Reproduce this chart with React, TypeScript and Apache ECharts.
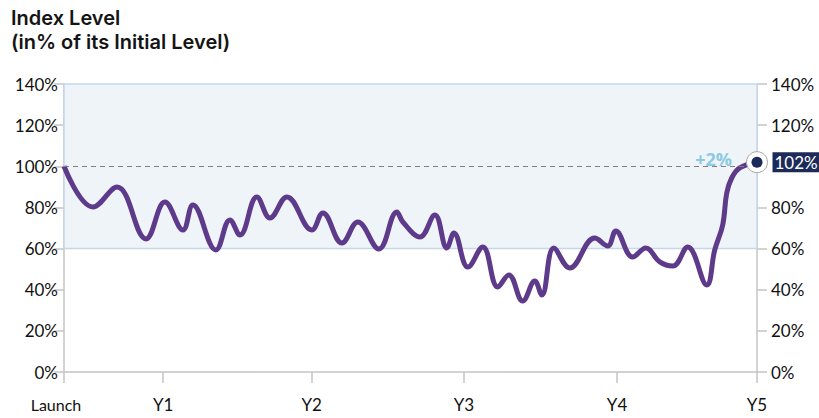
import React, { useEffect, useRef } from "react";
import * as echarts from "echarts";

// Months since launch and index level (% of initial level)
const months = [0, 2.51, 4.59, 7.1, 8.74, 10.3, 11.16, 13.15, 14.37, 15.23, 16.7, 17.83, 19.3, 21.46, 22.41, 24.06, 25.44, 27.26, 28.82, 29.34, 30.81, 32.11, 33.15, 33.76, 34.97, 36.26, 37.56, 38.51, 39.72, 40.76, 41.37, 42.41, 43.79, 45.95, 47.08, 47.77, 49.24, 50.37, 51.58, 52.71, 54.0, 55.65, 56.34, 57.03, 57.38, 57.81, 58.5, 60];
const levels = [100, 80.2, 89.9, 64.7, 82.6, 69.0, 81.2, 59.3, 73.9, 66.6, 85.1, 74.9, 85.1, 69.0, 77.3, 62.7, 72.9, 59.8, 77.8, 72.9, 65.6, 76.3, 60.3, 67.6, 51.0, 60.8, 41.3, 47.2, 34.5, 44.2, 37.4, 60.3, 50.6, 65.1, 61.3, 68.5, 55.9, 60.3, 53.5, 51.5, 60.8, 42.3, 59.3, 71.5, 87.0, 94.3, 99.2, 102];

const xTickValues = [0, 8.59, 21.44, 34.62, 47.88, 60];
const xTickLabels = ["Launch", "Y1", "Y2", "Y3", "Y4", "Y5"];
const initialLevel = 100;
const zoneLow = 60;
const zoneHigh = 140;

export default function App() {
  const ref = useRef<HTMLDivElement>(null);
  useEffect(() => {
    document.body.style.margin = "0";
    const chart = echarts.init(ref.current!, undefined, { renderer: "svg" });
    const data = months.map((m, i) => [m, levels[i]]);
    const last = data[data.length - 1];
    const perf = Math.round(last[1] - initialLevel);
    const font = "Lato";
    const axisCommon = {
      type: "value" as const,
      min: 0,
      max: 140,
      interval: 20,
      axisLine: { show: true, lineStyle: { color: "#c4c4c4", width: 1.5 } },
      axisTick: { show: true, length: 10, lineStyle: { color: "#c4c4c4", width: 1.5 } },
      splitLine: { show: false },
      axisLabel: { formatter: "{value}%", color: "#111", fontSize: 17, fontFamily: font, margin: 6 },
    };
    chart.setOption({
      animation: false,
      title: {
        text: "Index Level\n(in% of its Initial Level)",
        left: 6,
        top: 1,
        textStyle: { fontFamily: "Inter", fontWeight: 600, fontSize: 20, lineHeight: 24, color: "#141414" },
      },
      grid: { left: 64, right: 62, top: 84, bottom: 46 },
      xAxis: {
        type: "value",
        min: 0,
        max: 60,
        axisLine: { show: true, lineStyle: { color: "#c4c4c4", width: 1.5 } },
        axisTick: { show: true, length: 11, customValues: xTickValues, lineStyle: { color: "#c4c4c4", width: 1.5 } },
        splitLine: { show: false },
        axisLabel: {
          customValues: xTickValues,
          margin: 24,
          color: "#111",
          fontFamily: font,
          fontSize: 17,
          alignMinLabel: "center",
          alignMaxLabel: "center",
          formatter: (v: number) => {
            const i = xTickValues.findIndex((t) => Math.abs(t - v) < 0.01);
            if (i === 0) return "{l|" + xTickLabels[0] + "}";
            return i >= 0 ? xTickLabels[i] : "";
          },
          rich: { l: { fontSize: 16, fontFamily: font, color: "#111", padding: [0, 16, 0, 0] } },
        },
      },
      yAxis: [
        { ...axisCommon, position: "left" },
        {
          ...axisCommon,
          position: "right",
          axisLabel: {
            ...axisCommon.axisLabel,
            margin: 14,
            formatter: (v: number) => (v === initialLevel ? "" : v + "%"),
          },
        },
      ],
      series: [
        {
          type: "line",
          data,
          smooth: 0.4,
          showSymbol: false,
          symbol: "none",
          lineStyle: { color: "#5e3a8b", width: 5 },
          z: 3,
          markArea: {
            silent: true,
            itemStyle: { color: "#eff4f8", borderColor: "#c5d8ea", borderWidth: 1.5 },
            data: [[{ yAxis: zoneLow }, { yAxis: zoneHigh }]],
          },
          markLine: {
            silent: true,
            symbol: "none",
            label: { show: false },
            lineStyle: { color: "#808080", type: [5, 4], width: 1.2 },
            data: [{ yAxis: initialLevel }],
          },
        },
        {
          type: "scatter",
          data: [last],
          symbol: "circle",
          symbolSize: 21,
          itemStyle: { color: "#ffffff", borderColor: "#a8a8a8", borderWidth: 1, opacity: 1 },
          label: {
            show: true,
            position: "left",
            distance: 14,
            offset: [0, -3],
            formatter: (perf >= 0 ? "+" : "") + perf + "%",
            color: "#8ccae2",
            fontFamily: "Open Sans",
            fontWeight: 700,
            fontSize: 18,
          },
          z: 5,
        },
        {
          type: "scatter",
          data: [last],
          symbol: "circle",
          symbolSize: 11,
          itemStyle: { color: "#1b2a58", opacity: 1 },
          label: {
            show: true,
            position: "right",
            distance: 10,
            formatter: Math.round(last[1]) + "%",
            color: "#ffffff",
            backgroundColor: "#1b2a58",
            padding: [2, 2, 1, 2],
            fontFamily: font,
            fontSize: 17,
          },
          z: 6,
        },
      ],
    });
    return () => chart.dispose();
  }, []);
  return <div ref={ref} style={{ width: 819, height: 418 }} />;
}
